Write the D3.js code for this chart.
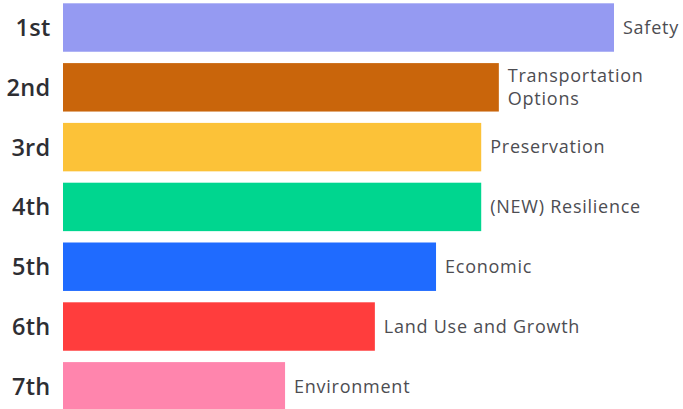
<!DOCTYPE html>
<html>
<head>
<meta charset="utf-8">
<script src="https://cdn.jsdelivr.net/npm/d3@7"></script>
<style>
html,body{margin:0;padding:0;background:#fff;}
svg{display:block;}
</style>
</head>
<body>
<svg id="chart" width="683" height="409"></svg>
<script>
const ranks = ["1st","2nd","3rd","4th","5th","6th","7th"];
const categories = ["Safety","Transportation Options","Preservation","(NEW) Resilience","Economic","Land Use and Growth","Environment"];
const labelLines = [["Safety"],["Transportation","Options"],["Preservation"],["(NEW) Resilience"],["Economic"],["Land Use and Growth"],["Environment"]];
const values = [100, 79.1, 75.9, 75.9, 67.7, 56.6, 40.3];
const colors = ["#959af2","#c9650b","#fcc238","#00d68f","#1f6bff","#ff3d3d","#ff85ad"];

const svg = d3.select("#chart");
const x = d3.scaleLinear().domain([0,100]).range([63,614]);
const y = d3.scaleBand().domain(ranks).range([3.3, 3.3 + 59.8*(7-0.19)]).paddingInner(0.19).paddingOuter(0);

const data = ranks.map((r,i)=>({rank:r, cat:categories[i], lines:labelLines[i], v:values[i], c:colors[i]}));

svg.selectAll("rect.bar").data(data).join("rect")
  .attr("class","bar")
  .attr("x", x(0))
  .attr("y", d=>y(d.rank))
  .attr("width", d=>x(d.v)-x(0))
  .attr("height", y.bandwidth())
  .attr("fill", d=>d.c);

const yAxis = d3.axisLeft(y).tickSize(0).tickPadding(0);
const ag = svg.append("g").attr("transform","translate(50.5,0)").call(yAxis);
ag.select(".domain").remove();
ag.selectAll("text")
  .attr("fill","#2e2e33")
  .style("font-family","'Open Sans', sans-serif")
  .style("font-weight","600")
  .style("font-size","23.5px")
  .style("letter-spacing","0.3px")
  .attr("dy","0.36em");

const lg = svg.selectAll("text.lab").data(data).join("text")
  .attr("class","lab")
  .attr("x", d=>x(d.v)+9)
  .attr("y", d=>y(d.rank)+y.bandwidth()/2)
  .attr("fill","#4d4d52")
  .style("font-family","'Open Sans', sans-serif")
  .style("font-size","18px")
  .style("letter-spacing","0.75px");
lg.each(function(d){
  const t = d3.select(this);
  const n = d.lines.length;
  d.lines.forEach((ln,k)=>{
    t.append("tspan").attr("x", x(d.v)+9)
     .attr("dy", k===0 ? ((0.35 - (n-1)*0.65) + "em") : "1.3em")
     .text(ln);
  });
});
</script>
</body>
</html>
